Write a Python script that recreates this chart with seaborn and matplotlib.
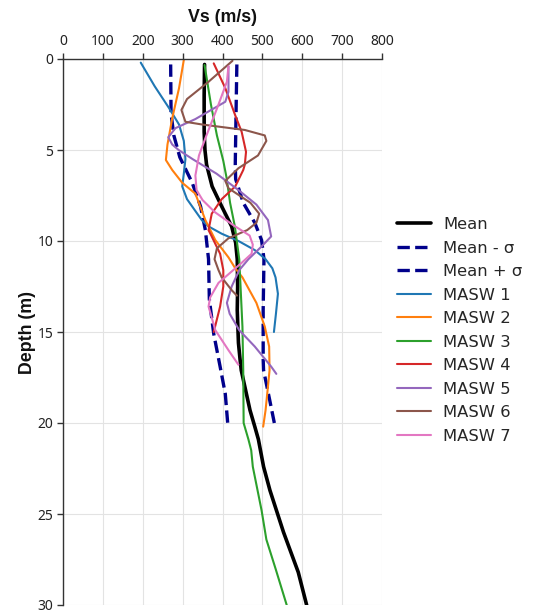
import matplotlib
matplotlib.use("Agg")
import matplotlib.pyplot as plt
import seaborn as sns
import pandas as pd

# ---- data (Vs in m/s, depth in m) ----
mean_d = [0.3, 2, 4, 5, 5.8, 7.0, 8.1, 9.2, 10.1, 11.0, 12.5, 13.8, 15.6, 16.5, 17.1, 18.0, 19.3, 20.2, 20.9, 22.4, 23.7, 26.0, 28.2, 30.0]
mean_v = [355, 354, 354, 356, 360, 374, 398, 423, 433, 437, 438, 437, 440, 444, 447, 456, 469, 481, 490, 503, 519, 553, 590, 611]

minus_d = [0.3, 3.0, 4.2, 5.4, 6.8, 8.1, 9.4, 11.0, 13.2, 15.1, 16.9, 18.4, 20.0]
minus_v = [270, 271, 278, 293, 324, 345, 357, 365, 367, 378, 394, 407, 413]

plus_d = [0.3, 2.9, 5.8, 6.6, 7.9, 9.0, 9.95, 11.0, 13.8, 16.5, 17.1, 18.7, 20.0]
plus_v = [436, 434, 432, 433, 452, 481, 498, 504, 502, 502, 503, 518, 530]

masw1_d = [0.2, 1.5, 2.7, 3.6, 4.5, 5.5, 6.3, 7.0, 7.7, 8.85, 9.2, 9.6, 10.0, 10.5, 11.0, 11.5, 12.0, 12.9, 14.0, 15.0]
masw1_v = [195, 230, 266, 291, 303, 307, 303, 299, 311, 348, 365, 398, 440, 481, 508, 525, 533, 539, 534, 529]

masw2_d = [0.05, 1.6, 3.25, 4.7, 5.55, 6.1, 6.8, 7.4, 8.85, 9.95, 10.9, 11.5, 12.0, 13.4, 14.7, 15.8, 17.1, 18.0, 19.3, 20.2]
masw2_v = [303, 291, 274, 262, 258, 274, 299, 332, 357, 382, 415, 432, 450, 485, 506, 517, 518, 514, 508, 502]

masw3_d = [0.33, 2.5, 4.2, 5.6, 6.5, 7.9, 9.2, 11.0, 14.7, 17.1, 20.0, 20.9, 21.5, 22.4, 24.8, 26.4, 28.0, 30.0]
masw3_v = [355, 371, 386, 402, 410, 419, 431, 442, 450, 452, 453, 465, 472, 476, 498, 510, 533, 561]

masw4_d = [0.24, 1.6, 3.1, 4.0, 5.1, 5.8, 6.1, 7.0, 7.7, 8.5, 9.4, 9.75, 10.7, 11.6, 12.5, 13.6, 14.3, 15.0]
masw4_v = [378, 407, 432, 448, 459, 456, 452, 432, 398, 373, 365, 373, 394, 402, 402, 394, 386, 378]

masw5_d = [0.4, 1.8, 2.35, 3.3, 3.8, 4.3, 4.7, 5.0, 5.5, 6.3, 7.2, 8.0, 8.85, 9.75, 10.3, 11.0, 11.6, 12.5, 13.4, 14.0, 14.9, 15.8, 16.9, 17.3]
masw5_v = [415, 415, 407, 332, 282, 264, 274, 290, 325, 385, 440, 485, 514, 522, 498, 465, 442, 423, 411, 418, 442, 481, 522, 535]

masw6_d = [0.1, 1.25, 2.2, 2.8, 3.45, 3.6, 3.9, 4.2, 4.5, 5.3, 6.0, 6.7, 7.1, 7.9, 8.5, 9.0, 9.4, 9.85, 10.4, 11.0, 11.6, 12.0, 12.7, 13.0]
masw6_v = [425, 365, 311, 297, 307, 349, 456, 506, 510, 489, 440, 407, 415, 470, 492, 485, 462, 415, 386, 380, 390, 398, 423, 436]

masw7_d = [0.4, 1.25, 2.5, 4.3, 5.3, 6.4, 7.2, 7.75, 8.4, 9.1, 9.7, 10.2, 10.7, 11.2, 12.3, 13.1, 13.6, 14.9, 16.0, 16.8]
masw7_v = [415, 411, 390, 358, 341, 332, 335, 350, 380, 425, 468, 476, 473, 448, 390, 369, 365, 382, 415, 440]

x_ticks = [0, 100, 200, 300, 400, 500, 600, 700, 800]
y_ticks = [0, 5, 10, 15, 20, 25, 30]

series = [
    ("Mean", mean_d, mean_v, dict(color="black", lw=2.6, ls="-")),
    ("Mean - σ", minus_d, minus_v, dict(color="#00008B", lw=2.4, ls="--")),
    ("Mean + σ", plus_d, plus_v, dict(color="#00008B", lw=2.4, ls="--")),
    ("MASW 1", masw1_d, masw1_v, dict(color="#1f77b4", lw=1.5, ls="-")),
    ("MASW 2", masw2_d, masw2_v, dict(color="#ff7f0e", lw=1.5, ls="-")),
    ("MASW 3", masw3_d, masw3_v, dict(color="#2ca02c", lw=1.5, ls="-")),
    ("MASW 4", masw4_d, masw4_v, dict(color="#d62728", lw=1.5, ls="-")),
    ("MASW 5", masw5_d, masw5_v, dict(color="#9467bd", lw=1.5, ls="-")),
    ("MASW 6", masw6_d, masw6_v, dict(color="#8c564b", lw=1.5, ls="-")),
    ("MASW 7", masw7_d, masw7_v, dict(color="#e377c2", lw=1.5, ls="-")),
]

sns.set_theme(style="white")
plt.rcParams["font.family"] = ["Noto Sans", "DejaVu Sans"]

fig = plt.figure(figsize=(5.33, 6.14), dpi=100)
ax = fig.add_axes([63 / 533, 1 - 605 / 614, (382 - 63) / 533, (605 - 59) / 614])

for name, d, v, st in series:
    df = pd.DataFrame({"Vs": v, "Depth": d})
    sns.lineplot(data=df, x="Vs", y="Depth", orient="y", sort=True, estimator=None,
                 ax=ax, label=name, color=st["color"], linewidth=st["lw"],
                 linestyle=st["ls"])

ax.set_xlim(0, 800)
ax.set_ylim(30, 0)
ax.set_xticks(x_ticks)
ax.set_yticks(y_ticks)
ax.xaxis.tick_top()
ax.xaxis.set_label_position("top")
ax.grid(True, color="#e3e3e3", linewidth=0.8)
ax.set_axisbelow(True)
for s in ["right", "bottom"]:
    ax.spines[s].set_visible(False)
for s in ["left", "top"]:
    ax.spines[s].set_color("#333333")
    ax.spines[s].set_linewidth(1.0)
ax.tick_params(axis="both", which="both", direction="out", length=4, width=1,
               color="#333333", labelsize=10, labelcolor="#222222", pad=3)
ax.tick_params(axis="x", top=True, bottom=False)
ax.tick_params(axis="y", left=True)

lab_font = {"family": ["Liberation Sans", "DejaVu Sans"], "size": 12.8, "weight": "bold"}
ax.set_xlabel("Vs (m/s)", fontdict=lab_font, labelpad=9, color="#111111")
ax.set_ylabel("Depth (m)", fontdict=lab_font, labelpad=1, color="#111111")

leg = ax.legend(loc="center left", bbox_to_anchor=(1.0, 0.503), frameon=False,
                prop={"family": "DejaVu Sans", "size": 11.8}, handlelength=2.1,
                labelspacing=0.52, handletextpad=0.75)

fig.savefig("out.png", dpi=100)
